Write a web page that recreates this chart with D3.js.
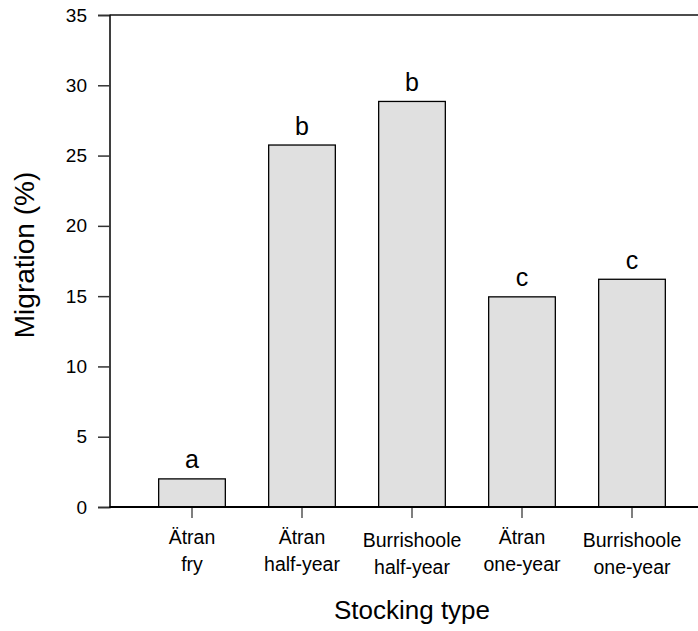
<!DOCTYPE html>
<html>
<head>
<meta charset="utf-8">
<script src="https://d3js.org/d3.v7.min.js"></script>
<style>
  body { margin: 0; background: #fff; }
  text { font-family: Arial, "Liberation Sans", sans-serif; fill: #000; }
</style>
</head>
<body>
<div id="chart"></div>
<script>
    // data
    const categories = [["Ätran", "fry"], ["Ätran", "half-year"], ["Burrishoole", "half-year"], ["Ätran", "one-year"], ["Burrishoole", "one-year"]]
    const migration = [2.0, 25.75, 28.85, 14.95, 16.2]
    const groupLetters = ["a", "b", "b", "c", "c"]
    const yTicks = [0, 5, 10, 15, 20, 25, 30, 35]

    var width = 698, height = 631
    var plotLeft = 109.5, plotRight = 698, plotTop = 15, plotBottom = 507

    var svg = d3.select("#chart").append("svg")
        .attr("width", width)
        .attr("height", height)

    var x = d3.scaleBand()
        .domain(d3.range(categories.length))
        .range([137, 687])
        .paddingInner(0.394)
        .paddingOuter(0.197)

    var y = d3.scaleLinear()
        .domain([0, 35])
        .range([plotBottom, plotTop])

    // bars
    svg.append("g").selectAll("rect")
        .data(migration)
        .enter().append("rect")
        .attr("x", (d, i) => x(i))
        .attr("y", d => y(d))
        .attr("width", x.bandwidth())
        .attr("height", d => y(0) - y(d))
        .attr("fill", "#e0e0e0")
        .attr("stroke", "#000")
        .attr("stroke-width", 1.3)

    // significance letters
    svg.append("g").selectAll("text")
        .data(migration)
        .enter().append("text")
        .attr("x", (d, i) => x(i) + x.bandwidth() / 2)
        .attr("y", d => y(d) - 10.5)
        .attr("text-anchor", "middle")
        .style("font-size", "25px")
        .text((d, i) => groupLetters[i])

    // y axis
    var yAxis = svg.append("g")
        .attr("transform", "translate(" + plotLeft + ",0)")
        .call(d3.axisLeft(y).tickValues(yTicks).tickSize(11.5).tickPadding(11))
    yAxis.select(".domain").attr("stroke", "#000").attr("stroke-width", 1.5)
    yAxis.selectAll(".tick line").attr("stroke", "#333").attr("stroke-width", 1.5)
    yAxis.selectAll(".tick text").style("font-size", "19px").style("font-family", "Arial, 'Liberation Sans', sans-serif").attr("fill", "#000")

    // top frame line
    svg.append("line")
        .attr("x1", plotLeft).attr("x2", plotRight)
        .attr("y1", y(35)).attr("y2", y(35))
        .attr("stroke", "#111").attr("stroke-width", 1.5)

    // x axis
    var xAxis = svg.append("g")
        .attr("transform", "translate(0," + plotBottom + ")")
        .call(d3.axisBottom(x).tickSize(11).tickFormat(""))
    xAxis.select(".domain").remove()
    xAxis.selectAll(".tick line").attr("stroke", "#555").attr("stroke-width", 1.5)
    svg.append("line")
        .attr("x1", plotLeft).attr("x2", plotRight)
        .attr("y1", plotBottom).attr("y2", plotBottom)
        .attr("stroke", "#000").attr("stroke-width", 2.2)

    // two-line category labels (top aligned, so the umlaut rows sit a bit higher)
    var catLabels = svg.append("g").selectAll("text")
        .data(categories)
        .enter().append("text")
        .attr("text-anchor", "middle")
        .style("font-size", "19.5px")
    catLabels.each(function (d, i) {
        var t = d3.select(this)
        var base = d[0].charAt(0) === "Ä" ? 543.5 : 547
        d.forEach(function (line, k) {
            t.append("tspan")
                .attr("x", x(i) + x.bandwidth() / 2)
                .attr("y", base + k * 27)
                .text(line)
        })
    })

    // axis titles
    svg.append("text")
        .attr("x", x(2) + x.bandwidth() / 2)
        .attr("y", 619)
        .attr("text-anchor", "middle")
        .style("font-size", "26px")
        .text("Stocking type")

    svg.append("text")
        .attr("transform", "translate(33.5," + 255 + ")rotate(-90)")
        .attr("text-anchor", "middle")
        .style("font-size", "28px")
        .text("Migration (%)")
</script>
</body>
</html>
